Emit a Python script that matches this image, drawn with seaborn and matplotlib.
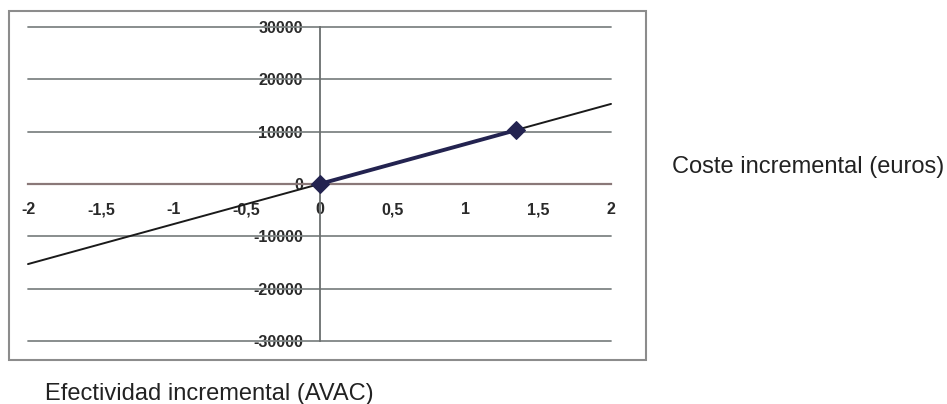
import numpy as np
import pandas as pd
import seaborn as sns
import matplotlib.pyplot as plt
from matplotlib.patches import Rectangle
from matplotlib.ticker import FuncFormatter

# datos
recta_x = [-2, 2]
recta_y = [-15300, 15300]
punto_x = [0, 1.35]
punto_y = [0, 10300]
xticks = [-2, -1.5, -1, -0.5, 0, 0.5, 1, 1.5, 2]
yticks = [-30000, -20000, -10000, 0, 10000, 20000, 30000]

sns.set_style("white")
plt.rcParams['font.family'] = ['Liberation Sans', 'DejaVu Sans']

fig = plt.figure(figsize=(9.47, 4.04), dpi=100)
ax = fig.add_axes([28 / 947, 1 - 341 / 404, 583 / 947, 314 / 404])

# marco exterior
fig.patches.append(Rectangle((9 / 947, 1 - 360 / 404), 637 / 947, 349 / 404,
                             transform=fig.transFigure, fill=False,
                             edgecolor='#8c8c8c', linewidth=1.5))

# rejilla horizontal
for yv in yticks:
    if yv != 0:
        ax.axhline(yv, color='#7f8585', linewidth=1.3, zorder=1, clip_on=False)

df_recta = pd.DataFrame({'x': recta_x, 'y': recta_y})
df_punto = pd.DataFrame({'x': punto_x, 'y': punto_y})
sns.lineplot(data=df_recta, x='x', y='y', ax=ax, color='#1a1a1a', linewidth=1.4,
             zorder=3, clip_on=False)
sns.lineplot(data=df_punto, x='x', y='y', ax=ax, color='#232350', linewidth=2.8,
             marker='D', markersize=9, markeredgecolor='#232350', zorder=4,
             clip_on=False)

ax.set_xlim(-2, 2)
ax.set_ylim(-30000, 30000)
ax.set_xlabel('')
ax.set_ylabel('')

for s in ['top', 'right']:
    ax.spines[s].set_visible(False)
ax.spines['left'].set_position('zero')
ax.spines['bottom'].set_position('zero')
ax.spines['left'].set_color('#6a6e6e')
ax.spines['left'].set_linewidth(1.3)
ax.spines['bottom'].set_color('#8a7878')
ax.spines['bottom'].set_linewidth(1.6)
ax.spines['left'].set_bounds(-30000, 30000)

ax.set_xticks(xticks)
ax.set_yticks(yticks)
ax.xaxis.set_major_formatter(FuncFormatter(lambda v, p: ('%g' % v).replace('.', ',')))
ax.yaxis.set_major_formatter(FuncFormatter(lambda v, p: '%d' % v))
ax.tick_params(axis='x', direction='inout', length=6, width=1.4, color='#333333',
               pad=10, labelsize=11.5)
ax.tick_params(axis='y', length=0, pad=12, labelsize=11.5)
for lab in ax.get_xticklabels() + ax.get_yticklabels():
    lab.set_fontweight('bold')
    lab.set_color('#2a2a2a')

fig.text(672 / 947, 1 - 167 / 404, 'Coste incremental (euros)', fontsize=17,
         va='center', ha='left', color='#222222')
fig.text(45 / 947, 1 - 394 / 404, 'Efectividad incremental (AVAC)', fontsize=17,
         va='center', ha='left', color='#222222')

fig.savefig('out.png', dpi=100)
